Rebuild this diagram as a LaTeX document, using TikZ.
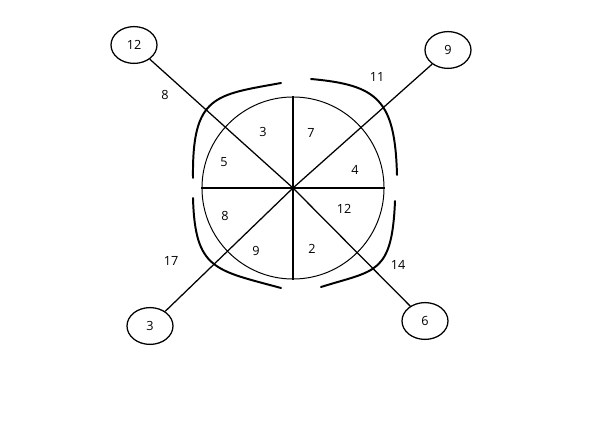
\documentclass[tikz,border=0pt]{standalone}
\usepackage{fontspec}
\setmainfont{Open Sans}
\usetikzlibrary{shapes.geometric}
\tikzset{
  leaf/.style={ellipse,draw=black,line width=0.9pt,minimum width=1.15cm,
    minimum height=0.92cm,inner sep=0pt,font=\small},
  wheel/.style={circle,draw=black,line width=0.7pt,minimum size=4.55cm,inner sep=0pt},
  spoke/.style={line width=1.3pt},
  ray/.style={line width=0.9pt},
  brace/.style={line width=1.4pt,line cap=round},
  seglbl/.style={font=\small,inner sep=1pt},
}
\begin{document}
\begin{tikzpicture}[x=0.025cm,y=-0.025cm]
  \useasboundingbox (0,0) rectangle (600,426);
  \node[wheel] (w) at (293,188) {};
  \node[leaf] (l12) at (134,45) {12};
  \node[leaf] (l9) at (448,50) {9};
  \node[leaf] (l3) at (150,326) {3};
  \node[leaf] (l6) at (425,321) {6};
  \draw[spoke] (w.west) -- (w.east);
  \draw[spoke] (w.north) -- (w.south);
  \draw[ray] (l12) -- (w.center);
  \draw[ray] (l9) -- (w.center);
  \draw[ray] (l3) -- (w.center);
  \draw[ray] (l6) -- (w.center);
  \draw[brace] (193,178) .. controls (192,95) and (215,95) .. (281,83);
  \draw[brace] (311,79) .. controls (378,85) and (395,100) .. (397,175);
  \draw[brace] (193,198) .. controls (195,270) and (215,270) .. (281,288);
  \draw[brace] (395,201) .. controls (392,275) and (375,270) .. (321,287);
  \node[seglbl] (s3) at (263,132) {3};
  \node[seglbl] (s7) at (311,133) {7};
  \node[seglbl] (s5) at (224,162) {5};
  \node[seglbl] (s4) at (355,170) {4};
  \node[seglbl] (s8) at (225,216) {8};
  \node[seglbl] (s12) at (344,209) {12};
  \node[seglbl] (s9) at (256,251) {9};
  \node[seglbl] (s2) at (312,249) {2};
  \node[seglbl] (o8) at (165,95) {8};
  \node[seglbl] (o11) at (377,77) {11};
  \node[seglbl] (o17) at (171,261) {17};
  \node[seglbl] (o14) at (398,265) {14};
\end{tikzpicture}
\end{document}
